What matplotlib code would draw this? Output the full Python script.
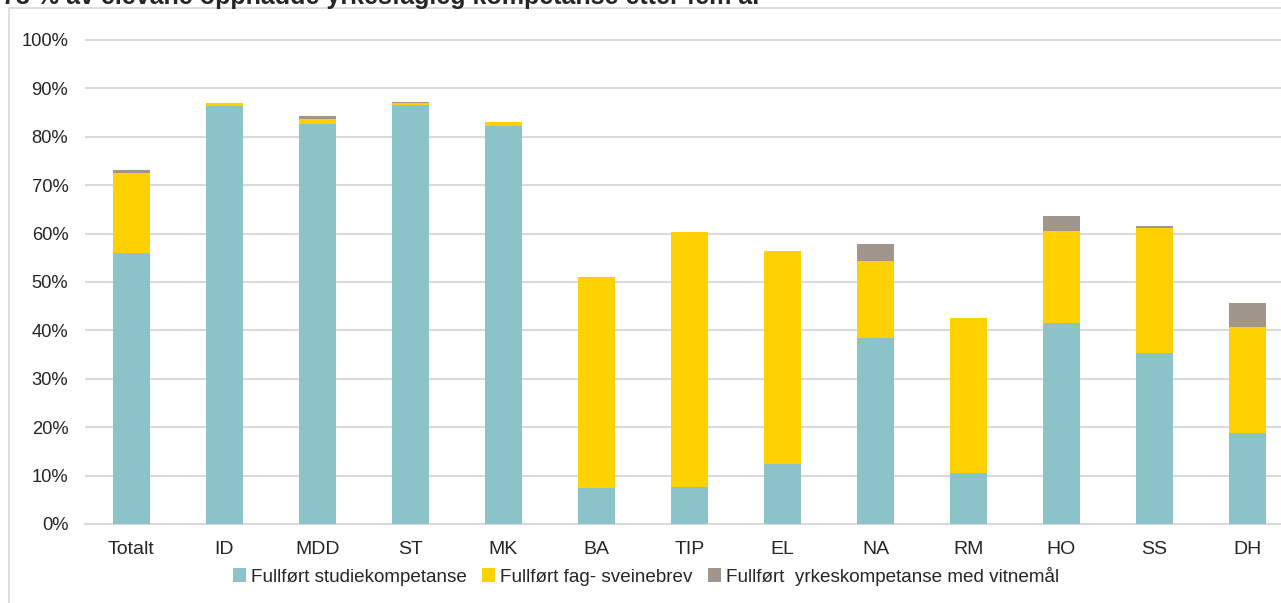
import matplotlib.pyplot as plt
from matplotlib.patches import Rectangle
import numpy as np

plt.rcParams['font.family'] = ['Liberation Sans', 'DejaVu Sans']

categories = ['Totalt', 'ID', 'MDD', 'ST', 'MK', 'BA', 'TIP', 'EL', 'NA', 'RM', 'HO', 'SS', 'DH']
studie = [56.0, 86.4, 82.7, 86.6, 82.3, 7.5, 7.6, 12.5, 38.5, 10.5, 41.6, 35.3, 18.7]
fagbrev = [16.6, 0.5, 0.9, 0.4, 0.7, 43.6, 52.8, 43.9, 15.8, 32.1, 18.9, 25.8, 22.0]
yrke = [0.6, 0.0, 0.6, 0.2, 0.0, 0.0, 0.0, 0.0, 3.6, 0.0, 3.2, 0.5, 5.0]

labels = ['Fullført studiekompetanse', 'Fullført fag- sveinebrev',
          'Fullført  yrkeskompetanse med vitnemål']
colors = ['#8BC4C8', '#FFD100', '#A0968D']
grid_col = '#DCD8DE'

W, H = 1281, 603
fig = plt.figure(figsize=(W / 100, H / 100), dpi=100)

# chart border (clipped on right/bottom like the reference)
fig.patches.append(Rectangle((9 / W, -0.1), 1.2, 1.1 - 8 / H, transform=fig.transFigure,
                             fill=False, edgecolor='#D9D9D9', linewidth=1.2))

ymax = 1.01
top_px = 524 - 484 * ymax
ax = fig.add_axes([85 / W, 79 / H, (W - 85) / W, (524 - top_px) / H])

x = np.arange(len(categories))
s = np.array(studie) / 100
f = np.array(fagbrev) / 100
y = np.array(yrke) / 100
ax.bar(x, s, width=0.4, color=colors[0], label=labels[0], zorder=3)
ax.bar(x, f, width=0.4, bottom=s, color=colors[1], label=labels[1], zorder=3)
ax.bar(x, y, width=0.4, bottom=s + f, color=colors[2], label=labels[2], zorder=3)

ax.set_xlim(-0.5, (W - 131.5) / 93)
ax.set_ylim(0, ymax)
ax.set_yticks(np.arange(0, 1.01, 0.1))
ax.set_yticklabels([f'{int(v)}%' for v in np.arange(0, 101, 10)], fontsize=13.2, color='#262626')
ax.set_xticks(x)
ax.set_xticklabels(categories, fontsize=14, color='#262626')
ax.tick_params(length=0)
ax.tick_params(axis='y', pad=12)
ax.tick_params(axis='x', pad=12.5)
ax.yaxis.grid(True, color=grid_col, linewidth=1.5, zorder=0)
for side in ['top', 'right', 'left']:
    ax.spines[side].set_visible(False)
ax.spines['bottom'].set_color(grid_col)
ax.spines['bottom'].set_linewidth(1.5)
ax.set_facecolor('none')

fig.legend(loc='center', bbox_to_anchor=(646 / W, 1 - 576 / H), ncol=3, frameon=False,
           fontsize=13.6, handlelength=0.7, handleheight=0.7, handletextpad=0.25,
           columnspacing=0.8, labelcolor='#262626')

fig.text(2 / W, 1 - 4 / H, '73 % av elevane oppnådde yrkesfagleg kompetanse etter fem år',
         fontsize=18, fontweight='bold', color='#262626', va='baseline', ha='left')

fig.savefig('out.png', dpi=100)
